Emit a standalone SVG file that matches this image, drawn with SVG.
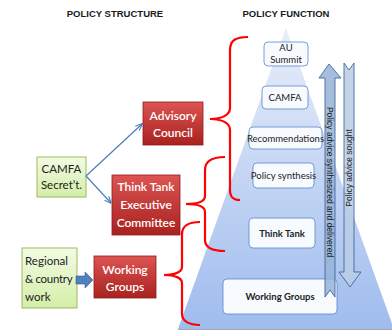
<svg xmlns="http://www.w3.org/2000/svg" width="392" height="331" viewBox="0 0 392 331">
<defs>
<linearGradient id="pyr" x1="0" y1="0" x2="0" y2="1">
<stop offset="0" stop-color="#e8eef9"/>
<stop offset="1" stop-color="#9fbcee"/>
</linearGradient>
<linearGradient id="red" x1="0" y1="0" x2="0" y2="1">
<stop offset="0" stop-color="#dd5452"/>
<stop offset="1" stop-color="#a82220"/>
</linearGradient>
<linearGradient id="green" x1="0" y1="0" x2="0" y2="1">
<stop offset="0" stop-color="#f3fbe3"/>
<stop offset="1" stop-color="#d4eea8"/>
</linearGradient>
<marker id="ah" viewBox="0 0 10 10" refX="9" refY="5" markerWidth="6" markerHeight="6" orient="auto">
<path d="M0,1 L10,5 L0,9" fill="none" stroke="#4a7ebb" stroke-width="1.5"/>
</marker>
</defs>
<style>
.title{font-family:"Liberation Sans Narrow","Liberation Sans",sans-serif;font-weight:bold;font-size:9.5px;fill:#1a1a1a}
.red{fill:url(#red);stroke:#8c1d1b;stroke-width:0.8}
.rt{font-family:Lato,"Liberation Sans",sans-serif;font-size:12px;fill:#fff;text-anchor:middle;font-weight:600}
.grn{fill:url(#green);stroke:#9bbb59;stroke-width:1}
.gt{font-family:Lato,"Liberation Sans",sans-serif;font-size:11.5px;fill:#222}
.wb{fill:#f7faff;stroke:#5b87c9;stroke-width:0.8}
.wt{font-family:Lato,"Liberation Sans",sans-serif;font-size:9.5px;fill:#222;text-anchor:middle}
.br{fill:none;stroke:#ff0000;stroke-width:2.2}
.conn{stroke:#4a7ebb;stroke-width:1.2;fill:none}
.at{font-family:"Liberation Sans",sans-serif;font-size:8.5px;fill:#222;text-anchor:middle}
</style>
<text class="title" x="115" y="17" text-anchor="middle">POLICY STRUCTURE</text>
<text class="title" x="286" y="17" text-anchor="middle">POLICY FUNCTION</text>

<g id="pyramid">
<polygon points="286,28 394,329 178,329" fill="url(#pyr)"/>
<line x1="178" y1="329.5" x2="392" y2="329.5" stroke="#a6a6a6" stroke-width="1.2"/>
</g>

<g id="brackets">
<path class="br" d="M248,37 C236,37 230,40 230,50 L230,108 C230,115 222,119 210,119 C222,119 230,123 230,130 L230,190 C230,198 234,200 240,200"/>
<path class="br" d="M225,157 C212,157 205,161 205,170 L205,196 C205,201 198,204 186,204 C198,204 205,207 205,212 L205,240 C205,248 212,251 225,251"/>
<path class="br" d="M200,222 C189,222 182,226 182,234 L182,267 C182,272 175,275 164,275 C175,275 182,278 182,283 L182,314 C182,321 189,325 200,325"/>
</g>

<g id="au-summit">
<rect class="wb" x="264" y="42" width="44" height="24" rx="4"/>
<text class="wt" x="286" y="51">AU</text>
<text class="wt" x="286" y="63">Summit</text>
</g>
<g id="camfa">
<rect class="wb" x="262" y="86" width="46" height="23" rx="4"/>
<text class="wt" x="285" y="101">CAMFA</text>
</g>
<g id="recommendations">
<rect class="wb" x="249" y="127" width="73" height="22" rx="4"/>
<text class="wt" x="285.5" y="141.5" font-size="8.5">Recommendations</text>
</g>
<g id="policy-synthesis">
<rect class="wb" x="253" y="163" width="61" height="25" rx="4"/>
<text class="wt" x="283.5" y="178.5" font-size="8.5">Policy synthesis</text>
</g>
<g id="think-tank">
<rect class="wb" x="249" y="218" width="66" height="30" rx="4"/>
<text class="wt" x="282" y="236.5" font-weight="bold" font-size="10">Think Tank</text>
</g>
<g id="working-groups-p">
<rect class="wb" x="223" y="279" width="114" height="35" rx="4"/>
<text class="wt" x="280" y="300" font-weight="bold" font-size="10">Working Groups</text>
</g>

<g id="arrow-up">
<polygon points="329,64 341,78 335,78 335,297 330,290 325,297 325,78 319,78" fill="#95b3d7" fill-opacity="0.85" stroke="#44679b" stroke-width="0.9"/>
<text class="at" transform="translate(330,182) rotate(90)" dy="3">Policy advice synthesized and delivered</text>
</g>
<g id="arrow-down">
<polygon points="344,63 349,70 354,63 354,272 361,272 350,287 339,272 344,272" fill="#b9cde5" fill-opacity="0.85" stroke="#44679b" stroke-width="0.9"/>
<text class="at" transform="translate(349,168) rotate(-90)" dy="3">Policy advice sought</text>
</g>

<g id="advisory-council">
<rect class="red" x="143" y="102" width="60" height="43"/>
<text class="rt" x="173" y="120">Advisory</text>
<text class="rt" x="173" y="137">Council</text>
</g>
<g id="camfa-secretariat">
<rect class="grn" x="37" y="157" width="49" height="40"/>
<text class="gt" x="61.5" y="173" text-anchor="middle">CAMFA</text>
<text class="gt" x="61.5" y="189" text-anchor="middle">Secret’t.</text>
</g>
<g id="think-tank-exec">
<rect class="red" x="112" y="175" width="68" height="60"/>
<text class="rt" x="146" y="191">Think Tank</text>
<text class="rt" x="146" y="209">Executive</text>
<text class="rt" x="146" y="227">Committee</text>
</g>
<g id="regional">
<rect class="grn" x="22" y="248" width="55" height="60"/>
<text class="gt" x="25" y="265">Regional</text>
<text class="gt" x="25" y="283" font-size="10.5" letter-spacing="-0.3">&amp; country</text>
<text class="gt" x="25" y="301">work</text>
</g>
<g id="working-groups">
<rect class="red" x="94" y="256" width="62" height="42"/>
<text class="rt" x="125" y="274">Working</text>
<text class="rt" x="125" y="291">Groups</text>
</g>

<g id="connectors">
<line class="conn" x1="86" y1="176" x2="142" y2="124" marker-end="url(#ah)"/>
<line class="conn" x1="86" y1="176" x2="111" y2="203" marker-end="url(#ah)"/>
<polygon points="76,276 85,276 85,272 93,280 85,288 85,284 76,284" fill="#4f81bd" stroke="#385d8a" stroke-width="0.6"/>
</g>
</svg>
